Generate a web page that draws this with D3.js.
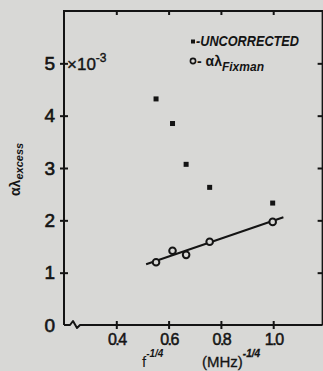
<!DOCTYPE html>
<html>
<head>
<meta charset="utf-8">
<script src="https://cdn.jsdelivr.net/npm/d3@7"></script>
<style>
html,body{margin:0;padding:0;background:#d8d8d6;}
svg{display:block;}
</style>
</head>
<body>
<svg id="chart" width="323" height="371"></svg>
<script>
// ---- data ----
const xTickValues = [0.4, 0.6, 0.8, 1.0];
const xTickLabels = ["0.4", "0.6", "0.8", "1.0"];
const yTickValues = [0, 1, 2, 3, 4, 5];
const yTickLabels = ["0", "1", "2", "3", "4", "5"];
const freqX = [0.552, 0.615, 0.667, 0.757, 0.998];
const uncorrectedY = [4.32, 3.85, 3.07, 2.63, 2.33];
const fixmanY = [1.20, 1.42, 1.34, 1.59, 1.97];
const fitX = [0.514, 1.039];
const fitY = [1.16, 2.06];

// ---- layout ----
const ink = "#141414";
const paper = "#d8d8d6";
const svg = d3.select("#chart");
const x = d3.scaleLinear().domain([0.2, 1.2]).range([64, 325.5]);
const y = d3.scaleLinear().domain([0, 6]).range([325, 11]);
const xRight = x(1.189);

const font = "'Liberation Sans', Arial, sans-serif";

// frame (left, top, right)
svg.append("path")
  .attr("d", `M${x(0.2)},${y(0)} V${y(6)} H${xRight} V${y(0)}`)
  .attr("fill", "none").attr("stroke", ink).attr("stroke-width", 2);
// bottom axis line with break squiggle
const x0 = x(0.2), yb = y(0);
svg.append("path")
  .attr("d", `M${x0},${yb} H${x0+6} L${x0+9},${yb-4} L${x0+13},${yb+3} L${x0+16},${yb} H${xRight}`)
  .attr("fill", "none").attr("stroke", ink).attr("stroke-width", 2).attr("stroke-linejoin","round");

// left axis
const gl = svg.append("g").attr("transform", `translate(${x0},0)`)
  .call(d3.axisLeft(y).tickValues(yTickValues).tickFormat((d,i)=>yTickLabels[i]).tickSize(4).tickPadding(5));
gl.select(".domain").remove();
gl.selectAll(".tick line").attr("x1", -4).attr("x2", 4).attr("stroke", ink).attr("stroke-width", 2)
  .filter(d => d === 0).remove();
gl.selectAll(".tick text").attr("font-family", font).attr("font-size", 19).attr("fill", ink)
  .attr("stroke", ink).attr("stroke-width", 0.6);

// bottom axis
const gb = svg.append("g").attr("transform", `translate(0,${yb})`)
  .call(d3.axisBottom(x).tickValues(xTickValues).tickFormat((d,i)=>xTickLabels[i]).tickSize(4).tickPadding(5));
gb.select(".domain").remove();
gb.selectAll(".tick line").attr("y1", -4).attr("y2", 4).attr("stroke", ink).attr("stroke-width", 2);
gb.selectAll(".tick text").attr("font-family", font).attr("font-size", 16).attr("fill", ink)
  .attr("letter-spacing", "-1.5").attr("stroke", ink).attr("stroke-width", 0.5);

// top axis (inward ticks)
const gt = svg.append("g").attr("transform", `translate(0,${y(6)})`)
  .call(d3.axisTop(x).tickValues(xTickValues).tickSize(-4).tickFormat(""));
gt.select(".domain").remove();
gt.selectAll(".tick line").attr("stroke", ink).attr("stroke-width", 2);

// right axis (inward ticks)
const gr = svg.append("g").attr("transform", `translate(${xRight},0)`)
  .call(d3.axisRight(y).tickValues(yTickValues.filter(d=>d>0)).tickSize(-5).tickFormat(""));
gr.select(".domain").remove();
gr.selectAll(".tick line").attr("stroke", ink).attr("stroke-width", 2);

// x10^-3 annotation
const mult = svg.append("text").attr("x", x0+3).attr("y", y(5)+7)
  .attr("font-family", font).attr("font-size", 17).attr("fill", ink)
  .attr("stroke", ink).attr("stroke-width", 0.4);
mult.append("tspan").text("×10");
mult.append("tspan").attr("dy", -8).attr("font-size", 12).text("-3");

// fitted line
svg.append("line")
  .attr("x1", x(fitX[0])).attr("y1", y(fitY[0]))
  .attr("x2", x(fitX[1])).attr("y2", y(fitY[1]))
  .attr("stroke", ink).attr("stroke-width", 2);

// uncorrected squares
svg.selectAll("rect.unc").data(freqX).enter().append("rect").attr("class","unc")
  .attr("x", d => x(d) - 2.5).attr("y", (d,i) => y(uncorrectedY[i]) - 2.5)
  .attr("width", 5).attr("height", 5).attr("fill", ink);

// Fixman circles
svg.selectAll("circle.fix").data(freqX).enter().append("circle").attr("class","fix")
  .attr("cx", d => x(d)).attr("cy", (d,i) => y(fixmanY[i])).attr("r", 3.3)
  .attr("fill", paper).attr("stroke", ink).attr("stroke-width", 2);

// legend
svg.append("rect").attr("x", 191).attr("y", 39.5).attr("width", 4).attr("height", 4).attr("fill", ink);
svg.append("text").attr("x", 196).attr("y", 46)
  .attr("font-family", font).attr("font-size", 14).attr("font-style", "italic").attr("font-weight", "bold")
  .attr("fill", ink).attr("textLength", 103).attr("lengthAdjust", "spacingAndGlyphs")
  .text("-UNCORRECTED");
svg.append("circle").attr("cx", 193).attr("cy", 61).attr("r", 2.6)
  .attr("fill", paper).attr("stroke", ink).attr("stroke-width", 1.6);
const lg2 = svg.append("text").attr("x", 197).attr("y", 66)
  .attr("font-family", font).attr("font-size", 14).attr("font-weight", "bold").attr("fill", ink);
lg2.append("tspan").text("- αλ");
lg2.append("tspan").attr("dy", 5).attr("font-size", 12).attr("font-style","italic").text("Fixman");

// y axis title (rotated)
const yt = svg.append("text").attr("transform", "translate(20,196) rotate(-90)")
  .attr("font-family", font).attr("font-size", 14).attr("font-weight", "bold").attr("fill", ink);
yt.append("tspan").text("αλ");
yt.append("tspan").attr("dy", 3).attr("font-size", 11).attr("font-style","italic").text("excess");

// x axis title
const xt1 = svg.append("text").attr("x", 142).attr("y", 367)
  .attr("font-family", font).attr("font-size", 15).attr("fill", ink);
xt1.append("tspan").text("f");
xt1.append("tspan").attr("dy", -10).attr("font-size", 10).attr("font-weight","bold").attr("font-style","italic").text("-1/4");
const xt2 = svg.append("text").attr("x", 202).attr("y", 367)
  .attr("font-family", font).attr("font-size", 15).attr("fill", ink)
  .attr("stroke", ink).attr("stroke-width", 0.3);
xt2.append("tspan").text("(MHz)");
xt2.append("tspan").attr("dy", -10).attr("font-size", 10).attr("font-weight","bold").attr("font-style","italic").text("-1/4");
</script>
</body>
</html>
